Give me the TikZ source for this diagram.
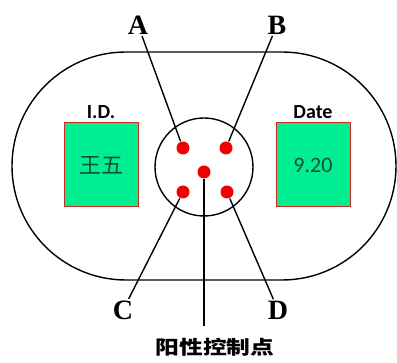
\documentclass[tikz,border=0pt]{standalone}
\usepackage{fontspec}
\setmainfont{Liberation Serif}
\newfontfamily\calib{Carlito}
\newfontfamily\cjk{Noto Sans CJK SC}
\usetikzlibrary{positioning}
\definecolor{padgreen}{RGB}{0,238,146}
\definecolor{padred}{RGB}{210,40,30}
\definecolor{dotred}{RGB}{240,0,0}
\definecolor{padtext}{RGB}{20,80,50}
\tikzset{
  pad/.style={draw=padred, fill=padgreen, line width=1pt, minimum width=74pt, minimum height=84pt, inner sep=0pt},
  spot/.style={circle, fill=dotred, minimum size=13pt, inner sep=0pt},
  letter/.style={font=\fontsize{28}{30}\selectfont\bfseries, inner sep=1pt}
}
\begin{document}
\begin{tikzpicture}[x=1pt, y=-1pt, line width=1.4pt]
  \useasboundingbox (0,0) rectangle (397,363);
  % card outline
  \draw (126,52) -- (282,52) arc[start angle=-90, end angle=90, radius=114]
        -- (126,280) arc[start angle=90, end angle=270, radius=114] -- cycle;
  % sample window
  \node[circle, draw, minimum size=98pt, inner sep=0pt] (win) at (204,167) {};
  % pads with their titles
  \node[pad] (idpad) at (101,165) {\cjk\fontsize{22}{22}\selectfont\color{padtext}王五};
  \node[pad] (datepad) at (313,165) {\calib\fontsize{22}{22}\selectfont\color{padtext}9.20};
  \node[above=0pt of idpad, font=\calib\fontsize{20}{20}\selectfont\bfseries] (idlab) {I.D.};
  \node[above=0pt of datepad, font=\calib\fontsize{20}{20}\selectfont\bfseries] (datelab) {Date};
  % test spots
  \foreach \n/\x/\y in {A/183/148, B/226/148, C/183/192, D/227/192, E/204/172}{
    \node[spot] (dot\n) at (\x,\y) {};
  }
  % spot labels
  \node[letter] (labA) at (138,25) {A};
  \node[letter] (labB) at (277,25) {B};
  \node[letter] (labC) at (123,310) {C};
  \node[letter] (labD) at (278,310) {D};
  \node[font=\cjk\fontsize{19}{19}\selectfont\bfseries, xscale=1.25] (ctlLab) at (215,347) {阳性控制点};
  \coordinate (ctlEnd) at (204,326);
  \foreach \n in {A,B,C,D}{
    \draw (lab\n) -- (dot\n);
  }
  \draw (dotE) -- (ctlEnd);
\end{tikzpicture}
\end{document}
